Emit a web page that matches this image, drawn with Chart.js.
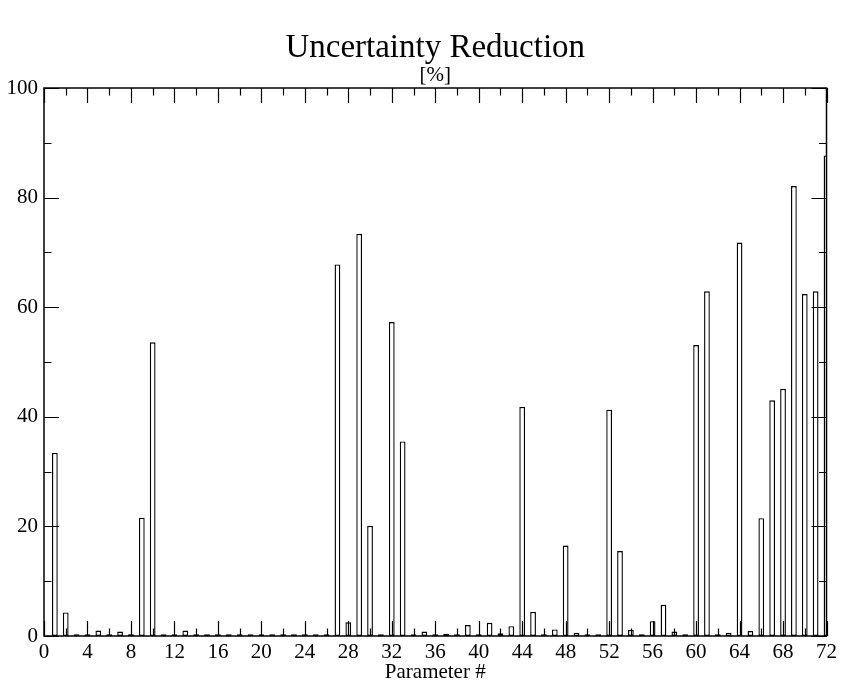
<!DOCTYPE html>
<html>
<head>
<meta charset="utf-8">
<title>Uncertainty Reduction</title>
<script src="https://cdn.jsdelivr.net/npm/chart.js@4.4.0/dist/chart.umd.min.js"></script>
<style>
  html, body { margin: 0; padding: 0; background: #fff; }
  #wrap { width: 841px; height: 685px; }
</style>
</head>
<body>
<div id="wrap"><canvas id="grafico" width="841" height="685"></canvas></div>
<script>
// Parameter number and uncertainty reduction [%]
const parametros = [
   1,  2,  3,  4,  5,  6,  7,  8,  9, 10, 11, 12,
  13, 14, 15, 16, 17, 18, 19, 20, 21, 22, 23, 24,
  25, 26, 27, 28, 29, 30, 31, 32, 33, 34, 35, 36,
  37, 38, 39, 40, 41, 42, 43, 44, 45, 46, 47, 48,
  49, 50, 51, 52, 53, 54, 55, 56, 57, 58, 59, 60,
  61, 62, 63, 64, 65, 66, 67, 68, 69, 70, 71, 72
];
const reducao = [
  33.4,  4.3,  0.3,  0.3,  1.0,  0.3,  0.8,  0.3, 21.6, 53.6,  0.3,  0.3,
   1.0,  0.3,  0.3,  0.3,  0.3,  0.3,  0.3,  0.3,  0.3,  0.3,  0.3,  0.3,
   0.3,  0.3, 67.8,  2.5, 73.4, 20.1,  0.3, 57.3, 35.5,  0.3,  0.8,  0.3,
   0.4,  0.3,  2.0,  0.3,  2.4,  0.5,  1.8, 41.8,  4.4,  0.3,  1.2, 16.5,
   0.6,  0.3,  0.3, 41.3, 15.5,  1.1,  0.3,  2.7,  5.7,  0.8,  0.3, 53.1,
  62.9,  0.3,  0.6, 71.8,  0.9, 21.5, 43.0, 45.1, 82.1, 62.4, 62.9, 87.7
];

// Eixos
const rotulosX = [0, 4, 8, 12, 16, 20, 24, 28, 32, 36, 40, 44, 48, 52, 56, 60, 64, 68, 72];
const rotulosY = [0, 20, 40, 60, 80, 100];

const fonteSerif = 'Liberation Serif, Times New Roman, serif';

// Moldura e marcas de escala para dentro (como no xmgrace)
const moldura = {
  id: 'moldura',
  afterDatasetsDraw(chart) {
    const { ctx, chartArea: a, scales: { x, y } } = chart;
    ctx.save();
    ctx.strokeStyle = '#000';
    ctx.lineWidth = 1.2;
    ctx.beginPath();
    x.ticks.forEach(t => {
      const px = Math.round(x.getPixelForValue(t.value)) + 0.5;
      const len = rotulosX.includes(t.value) ? 15 : 7.5;
      ctx.moveTo(px, a.bottom); ctx.lineTo(px, a.bottom - len);
      ctx.moveTo(px, a.top); ctx.lineTo(px, a.top + len);
    });
    y.ticks.forEach(t => {
      const py = Math.round(y.getPixelForValue(t.value)) + 0.5;
      const len = rotulosY.includes(t.value) ? 15 : 7.5;
      ctx.moveTo(a.left, py); ctx.lineTo(a.left + len, py);
      ctx.moveTo(a.right, py); ctx.lineTo(a.right - len, py);
    });
    ctx.stroke();
    ctx.lineWidth = 1.5;
    ctx.strokeRect(a.left, a.top, a.right - a.left, a.bottom - a.top);
    ctx.restore();
  }
};

new Chart(document.getElementById('grafico'), {
  type: 'bar',
  data: {
    datasets: [{
      data: parametros.map((p, i) => ({ x: p, y: reducao[i] })),
      backgroundColor: '#fff',
      borderColor: '#000',
      borderWidth: 1.4,
      borderSkipped: false,
      barPercentage: 0.53,
      categoryPercentage: 1,
      clip: 0
    }]
  },
  options: {
    responsive: false,
    animation: false,
    layout: { padding: { left: 0, right: 14.5, top: 0, bottom: 0 } },
    plugins: {
      legend: { display: false },
      tooltip: { enabled: false },
      title: {
        display: true,
        fullSize: false,
        text: 'Uncertainty Reduction',
        color: '#000',
        font: { family: fonteSerif, size: 33, weight: 'normal', lineHeight: 1 },
        padding: { top: 32, bottom: 0 }
      },
      subtitle: {
        display: true,
        fullSize: false,
        text: '[%]',
        color: '#000',
        font: { family: fonteSerif, size: 21, weight: 'normal', lineHeight: 1 },
        padding: { top: 0, bottom: 2 }
      }
    },
    scales: {
      x: {
        type: 'linear',
        min: 0,
        max: 72,
        offset: false,
        grid: { display: false, drawTicks: false, offset: false },
        border: { display: false },
        afterFit(scale) { scale.height = 49; },
        ticks: {
          stepSize: 2,
          autoSkip: false,
          maxRotation: 0,
          padding: 4,
          color: '#000',
          font: { family: fonteSerif, size: 21 },
          callback: v => rotulosX.includes(v) ? String(v) : ''
        },
        title: {
          display: true,
          text: 'Parameter #',
          color: '#000',
          font: { family: fonteSerif, size: 21 },
          padding: { top: 0, bottom: 0 }
        }
      },
      y: {
        min: 0,
        max: 100,
        grid: { display: false, drawTicks: false },
        border: { display: false },
        afterFit(scale) { scale.width = 44; },
        ticks: {
          stepSize: 10,
          autoSkip: false,
          padding: 6,
          color: '#000',
          font: { family: fonteSerif, size: 21 },
          callback: v => rotulosY.includes(v) ? String(v) : ''
        }
      }
    }
  },
  plugins: [moldura]
});
</script>
</body>
</html>
